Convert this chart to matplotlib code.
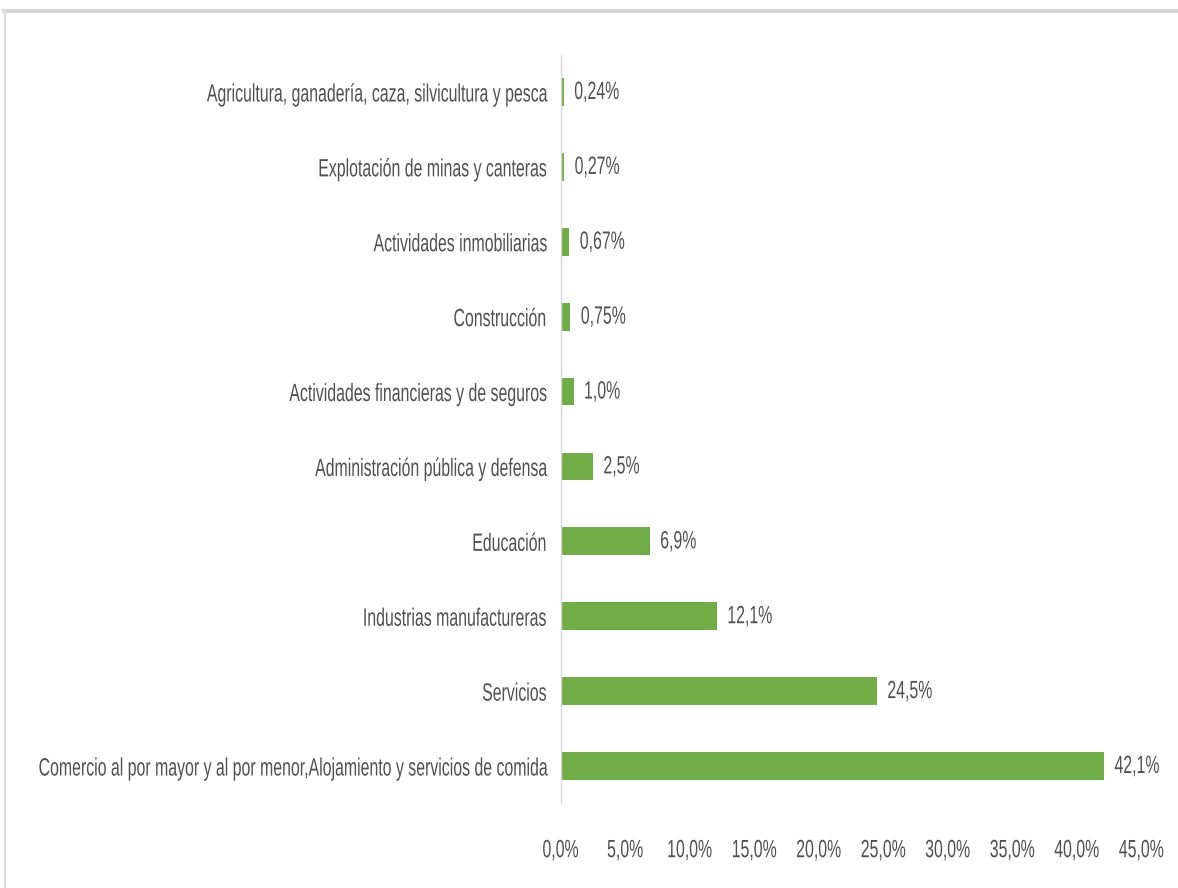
import matplotlib
matplotlib.use("Agg")
from matplotlib import pyplot as plt
from matplotlib.lines import Line2D
from matplotlib.patheffects import AbstractPathEffect
from matplotlib.transforms import Affine2D
from matplotlib.ticker import FuncFormatter
import numpy as np

# sectors, top to bottom as in the picture
sectors = [
    "Agricultura, ganadería, caza, silvicultura y pesca",
    "Explotación de minas y canteras",
    "Actividades inmobiliarias",
    "Construcción",
    "Actividades financieras y de seguros",
    "Administración pública y defensa",
    "Educación",
    "Industrias manufactureras",
    "Servicios",
    "Comercio al por mayor y al por menor,Alojamiento y servicios de comida",
]
shares = [0.24, 0.27, 0.67, 0.75, 1.0, 2.5, 6.9, 12.1, 24.5, 42.1]
share_labels = ["0,24%", "0,27%", "0,67%", "0,75%", "1,0%", "2,5%",
                "6,9%", "12,1%", "24,5%", "42,1%"]
xticks = [0, 5, 10, 15, 20, 25, 30, 35, 40, 45]

GREEN = "#70AD47"
TEXT = "#505050"
FS = 18
SX = 0.635   # the original uses a narrow font, squeeze the glyphs


class Squeeze(AbstractPathEffect):
    # squeeze text horizontally, keeping the aligned edge in place
    def __init__(self, sx, anchor="left"):
        super().__init__()
        self.sx = sx
        self.anchor = anchor

    def draw_path(self, renderer, gc, tpath, affine, rgbFace=None):
        ext = tpath.get_extents()
        if self.anchor == "right":
            a = ext.x1
        elif self.anchor == "center":
            a = ext.x1 / 2.0
        else:
            a = 0.0
        squeeze = Affine2D().translate(-a, 0).scale(self.sx, 1).translate(a, 0)
        renderer.draw_path(gc, tpath, squeeze + affine, rgbFace)


plt.rcParams['font.family'] = ['Liberation Sans', 'DejaVu Sans']

fig = plt.figure(figsize=(11.78, 8.88), dpi=100)
ax = fig.add_axes([0.476, 0.0952, 0.493, 0.8434])

y = np.arange(len(sectors))
ax.barh(y, shares, height=0.37, color=GREEN)
ax.set_ylim(len(sectors) - 0.5, -0.5)
ax.set_xlim(0, 45)

for yi, v, lab in zip(y, shares, share_labels):
    ax.annotate(lab, (v, yi), xytext=(7.5, 0), textcoords="offset points",
                va="center", ha="left", fontsize=FS, color=TEXT,
                path_effects=[Squeeze(SX, "left")])

ax.set_yticks(y)
ax.set_yticklabels(sectors, fontsize=FS, color=TEXT)
ax.set_xticks(xticks)
ax.xaxis.set_major_formatter(FuncFormatter(lambda v, p: f"{v:.1f}%".replace(".", ",")))
ax.tick_params(axis="x", length=0, pad=25, labelsize=FS, labelcolor=TEXT)
ax.tick_params(axis="y", length=0, pad=10)

for s in ["top", "right", "bottom"]:
    ax.spines[s].set_visible(False)
ax.spines["left"].set_color("#d9d9d9")
ax.spines["left"].set_linewidth(1.0)

# light grey frame at top and left, like the screenshot
fig.add_artist(Line2D([0.003, 1.0], [0.988, 0.988], transform=fig.transFigure,
                      color="#d6d6d6", lw=3))
fig.add_artist(Line2D([0.004, 0.004], [0.0, 0.988], transform=fig.transFigure,
                      color="#dcdcdc", lw=1.5))

fig.canvas.draw()
for lab in ax.get_yticklabels():
    lab.set_path_effects([Squeeze(SX, "right")])
for lab in ax.get_xticklabels():
    lab.set_path_effects([Squeeze(SX, "center")])

fig.savefig("out.png", dpi=100)
